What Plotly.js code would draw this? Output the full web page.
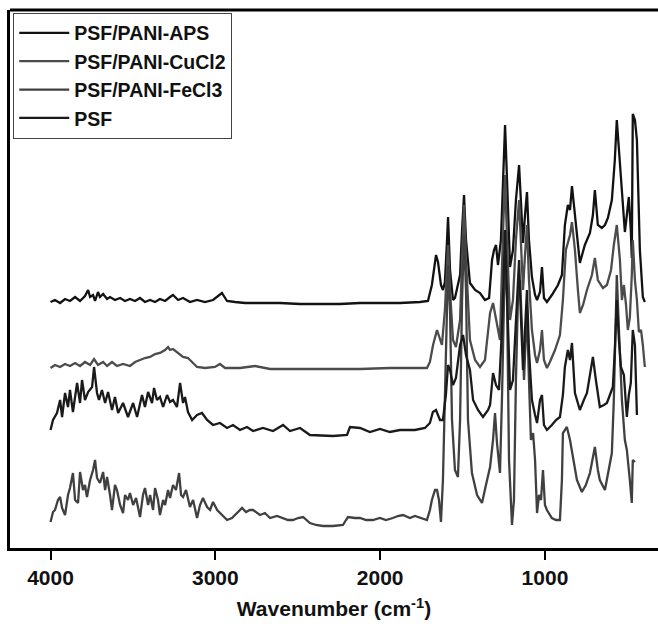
<!DOCTYPE html>
<html>
<head>
<meta charset="utf-8">
<script src="https://cdn.plot.ly/plotly-3.0.1.min.js"></script>
<style>
  html, body { margin: 0; padding: 0; background: #ffffff; overflow: hidden; }
  #chart { width: 658px; height: 632px; }
</style>
</head>
<body>
<div id="chart"></div>
<script>
// Series names (legend order)
const seriesNames = ["PSF/PANI-APS", "PSF/PANI-CuCl2", "PSF/PANI-FeCl3", "PSF"];

// Wavenumber (cm-1) and absorbance (arbitrary units, stacked offsets)
const apsWn = [4000,3973,3942,3912,3882,3851,3821,3791,3772,3760,3742,3730,3712,3700,3681,3657,3639,3609,3578,3548,3518,3487,3457,3427,3396,3366,3336,3305,3275,3257,3226,3196,3154,3111,3063,3014,2960,2929,2880,2820,2729,2608,2486,2365,2244,2122,2001,1880,1758,1710,1686,1661,1649,1631,1619,1607,1594,1588,1576,1558,1546,1515,1503,1491,1479,1455,1424,1394,1364,1339,1321,1309,1297,1285,1267,1254,1242,1230,1212,1194,1176,1157,1145,1133,1121,1109,1097,1079,1060,1048,1030,1018,1006,988,958,921,897,879,861,848,836,818,800,788,758,727,709,697,679,655,636,618,594,576,564,551,533,515,503,491,479,473,467,454,442,436,424,406,394];
const apsAbs = [246,248,245,249,247,251,247,252,258,251,253,247,256,251,254,249,251,248,250,247,249,247,250,246,248,246,249,247,251,253,248,250,246,248,246,248,255,247,246,245,245,245,244,244,244,245,245,245,246,247,263,293,286,263,258,266,308,331,278,248,250,273,318,353,308,265,258,255,248,250,288,298,303,283,308,378,423,368,281,298,348,383,338,305,333,356,308,271,253,248,256,281,250,246,253,263,273,323,343,338,362,331,298,285,303,315,333,358,323,320,323,330,348,388,428,398,358,316,333,351,318,290,434,428,408,363,298,251,246];

const cuWn = [4000,3973,3942,3912,3882,3851,3821,3791,3760,3736,3712,3681,3657,3627,3597,3560,3518,3487,3457,3427,3396,3366,3336,3305,3287,3275,3257,3226,3196,3166,3135,3111,3063,3002,2972,2941,2850,2759,2668,2486,2305,2122,1941,1819,1716,1698,1679,1655,1637,1625,1607,1588,1576,1558,1540,1515,1503,1491,1479,1455,1424,1394,1364,1333,1315,1297,1273,1254,1242,1230,1212,1194,1176,1157,1145,1133,1121,1109,1097,1079,1060,1048,1030,1018,1006,988,970,939,909,891,873,848,836,818,800,788,769,745,715,697,679,648,624,599,582,564,545,533,521,508,497,485,473,467,454,442,430,417,406,394];
const cuAbs = [180,183,181,184,182,185,182,186,183,189,183,186,182,186,182,184,182,186,188,190,191,194,195,198,201,198,199,195,191,190,185,181,180,181,184,180,180,182,179,179,179,179,180,180,180,186,203,218,208,203,238,303,258,208,201,228,288,343,288,208,188,181,188,235,245,228,208,318,373,308,228,248,308,348,298,258,293,323,268,218,193,185,198,218,188,180,186,198,213,248,298,313,326,298,258,235,243,258,273,290,268,260,263,278,303,323,288,248,263,243,218,230,273,308,268,248,216,218,203,181];

const feWn = [4000,3985,3973,3955,3942,3930,3912,3894,3882,3864,3851,3833,3821,3803,3791,3779,3760,3742,3730,3718,3700,3681,3669,3657,3639,3627,3609,3597,3578,3560,3548,3530,3518,3499,3481,3457,3439,3427,3408,3396,3378,3366,3348,3336,3317,3305,3287,3275,3257,3239,3220,3208,3196,3178,3154,3135,3111,3093,3075,3050,3032,3014,2989,2972,2947,2929,2899,2868,2838,2814,2790,2771,2747,2729,2699,2668,2626,2589,2559,2529,2498,2468,2444,2426,2389,2347,2286,2226,2207,2195,2153,2122,2086,2044,2001,1965,1923,1892,1862,1819,1789,1758,1716,1698,1686,1667,1655,1643,1631,1619,1607,1594,1588,1576,1564,1546,1528,1515,1503,1491,1479,1467,1443,1412,1382,1358,1333,1315,1303,1291,1273,1261,1249,1242,1230,1218,1200,1188,1176,1164,1151,1139,1127,1115,1109,1097,1085,1072,1060,1048,1036,1024,1012,1000,988,958,933,909,897,891,879,867,848,830,806,776,752,727,709,697,679,667,636,612,594,582,570,564,551,533,515,503,485,473,467,454];
const feAbs = [26,36,38,48,51,40,33,53,60,75,48,45,76,58,63,51,68,78,88,70,65,76,58,71,53,38,63,58,43,35,53,48,55,43,50,31,53,60,43,53,38,60,48,33,48,43,58,50,63,58,75,53,51,58,41,48,30,43,50,41,38,46,38,35,31,28,30,35,40,36,38,38,35,33,35,30,32,30,28,28,30,31,27,25,23,22,22,23,28,31,30,30,28,28,30,28,30,32,33,30,32,30,28,38,48,58,58,48,26,68,148,238,283,238,128,78,71,128,248,313,258,128,75,53,45,63,81,108,135,105,75,148,258,298,248,88,23,48,168,248,268,218,168,218,238,168,108,115,88,35,53,48,78,43,38,30,28,28,68,115,118,121,108,91,68,56,63,75,93,101,78,68,58,78,95,148,228,273,218,148,108,98,68,45,88,86];

const psfWn = [4000,3985,3961,3942,3930,3912,3894,3882,3864,3839,3821,3809,3791,3772,3748,3736,3718,3706,3688,3669,3651,3627,3609,3590,3560,3530,3499,3475,3445,3427,3408,3384,3372,3354,3336,3317,3293,3275,3257,3233,3214,3196,3184,3166,3141,3111,3081,3050,3014,2972,2929,2893,2850,2808,2771,2711,2650,2589,2547,2486,2426,2286,2201,2183,2122,2062,2001,1941,1880,1789,1728,1698,1680,1661,1637,1619,1601,1588,1576,1558,1540,1515,1497,1479,1455,1436,1406,1376,1345,1333,1315,1297,1279,1261,1242,1230,1212,1194,1176,1157,1145,1133,1121,1109,1097,1079,1060,1048,1030,1018,1006,988,958,933,909,891,879,861,848,836,818,800,788,764,745,727,709,691,667,642,624,606,588,576,564,551,539,521,503,491,479,467,454,442];
const psfAbs = [118,128,135,148,131,155,141,158,136,165,145,168,148,156,161,181,155,148,158,145,156,138,151,135,145,131,145,131,153,141,156,145,160,148,151,141,153,146,148,141,165,145,151,136,128,133,135,128,123,125,120,123,118,121,117,120,117,123,117,120,113,112,113,121,120,116,119,116,118,118,120,125,136,138,128,128,153,183,178,163,170,203,213,193,178,148,138,131,138,143,175,163,158,218,318,248,158,168,228,288,228,178,218,258,198,148,133,125,148,153,123,118,123,128,131,153,181,198,188,205,155,143,138,148,155,173,191,168,141,143,145,153,161,198,248,208,181,173,131,153,165,218,203,133];

// Tick values on the wavenumber axis
const tickValues = [4000, 3000, 2000, 1000];

const seriesX = [apsWn, cuWn, feWn, psfWn];
const seriesY = [apsAbs, cuAbs, feAbs, psfAbs];
const seriesColors = ["#121212", "#4c4c4c", "#404040", "#1a1a1a"];

const fontFam = "Liberation Sans, Arial, Helvetica, sans-serif";

const traces = seriesNames.map((name, i) => ({
  type: "scatter",
  mode: "lines",
  name: name,
  x: seriesX[i],
  y: seriesY[i],
  line: { color: seriesColors[i], width: 2.3 },
  hoverinfo: "skip"
}));

const layout = {
  width: 658,
  height: 632,
  margin: { l: 10, r: 0, t: 10, b: 84 },
  paper_bgcolor: "#ffffff",
  plot_bgcolor: "#ffffff",
  showlegend: true,
  legend: {
    x: 0.005, y: 0.995, xanchor: "left", yanchor: "top",
    bgcolor: "#ffffff",
    bordercolor: "#444444",
    borderwidth: 1,
    itemwidth: 50,
    tracegroupgap: 0,
    font: { family: fontFam, size: 19.5, color: "#111111", weight: "bold" }
  },
  xaxis: {
    range: [4246, 314],
    tickmode: "array",
    tickvals: tickValues,
    ticktext: tickValues.map(String),
    ticks: "outside",
    ticklen: 9,
    tickwidth: 2,
    tickcolor: "#000000",
    showline: true,
    linewidth: 3,
    linecolor: "#000000",
    showgrid: false,
    zeroline: false,
    tickfont: { family: fontFam, size: 21, color: "#111111", weight: "bold" },
    title: {
      text: "Wavenumber (cm<sup>-1</sup>)",
      font: { family: fontFam, size: 21, color: "#111111", weight: "bold" },
      standoff: 14
    }
  },
  yaxis: {
    range: [0, 538],
    showticklabels: false,
    ticks: "",
    showline: true,
    linewidth: 3,
    linecolor: "#000000",
    showgrid: false,
    zeroline: false
  },
  shapes: [
    { type: "line", xref: "paper", yref: "paper", x0: 0, x1: 1, y0: 1, y1: 1,
      line: { color: "#000000", width: 3 } }
  ]
};

Plotly.newPlot("chart", traces, layout, { staticPlot: true, displayModeBar: false });
</script>
</body>
</html>
